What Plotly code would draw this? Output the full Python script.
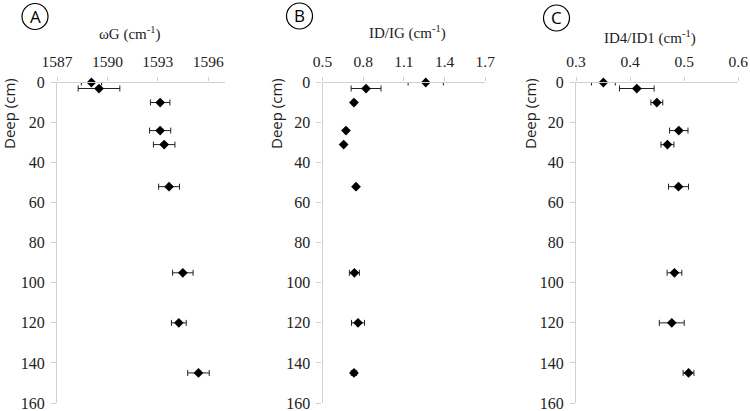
import plotly.graph_objects as go

depth = [0, 3, 10, 24, 31, 52, 95, 120, 145]

wG = [1589.05, 1589.5, 1593.14, 1593.14, 1593.38, 1593.67, 1594.49, 1594.25, 1595.42]
wG_err = [0.6, 1.24, 0.58, 0.63, 0.64, 0.62, 0.61, 0.44, 0.64]

idig = [1.261, 0.821, 0.732, 0.673, 0.656, 0.747, 0.735, 0.762, 0.732]
idig_err = [0.13, 0.11, 0.012, 0.01, 0.0, 0.012, 0.037, 0.048, 0.02]

id4id1 = [0.3506, 0.4124, 0.4494, 0.490, 0.469, 0.4895, 0.482, 0.477, 0.508]
id4id1_err = [0.022, 0.032, 0.011, 0.017, 0.012, 0.0185, 0.0136, 0.023, 0.01]

x_titles = ["ωG (cm<sup>-1</sup>)", "ID/IG (cm<sup>-1</sup>)", "ID4/ID1 (cm<sup>-1</sup>)"]
panel_letters = ["A", "B", "C"]
y_title = "Deep (cm)"
x_ranges = [[1587, 1597], [0.5, 1.7], [0.3, 0.6]]
x_tickvals = [[1587, 1590, 1593, 1596], [0.5, 0.8, 1.1, 1.4, 1.7], [0.3, 0.4, 0.5, 0.6]]
x_ticklabels = [["1587", "1590", "1593", "1596"], ["0.5", "0.8", "1.1", "1.4", "1.7"],
                ["0.3", "0.4", "0.5", "0.6"]]
y_tickvals = [0, 20, 40, 60, 80, 100, 120, 140, 160]
y_ticklabels = ["0", "20", "40", "60", "80", "100", "120", "140", "160"]

W, H = 750, 411


def px(xp):
    return xp / W


def py(yp):
    return 1 - yp / H


def serif_span(t):
    return "<span style='font-family:Liberation Serif'>" + t + "</span>"


series = [(wG, wG_err), (idig, idig_err), (id4id1, id4id1_err)]
dom_px = [(57, 225), (322.5, 485.3), (576, 738.3)]
ydom = [py(403), py(82.5)]

fig = go.Figure()
serif = "Liberation Serif, serif"
sans = "Open Sans, sans-serif"

for i, (vals, errs) in enumerate(series):
    n = "" if i == 0 else str(i + 1)
    fig.add_trace(go.Scatter(
        x=vals, y=depth, mode="markers", cliponaxis=False,
        marker=dict(symbol="diamond", size=7.5, color="black"),
        error_x=dict(type="data", array=errs, visible=True, color="#222", thickness=1, width=3),
        xaxis="x" + n, yaxis="y" + n, showlegend=False,
    ))
    x0, x1 = dom_px[i]
    fig.update_layout(**{
        "xaxis" + n: dict(
            domain=[px(x0), px(x1)], range=x_ranges[i], side="top",
            anchor="y" + n, tickmode="array", tickvals=x_tickvals[i],
            ticktext=[serif_span(t) for t in x_ticklabels[i]],
            showline=True, linecolor="#d0d0d0", linewidth=1.3,
            ticks="outside", ticklen=4, tickcolor="#d0d0d0",
            showgrid=False, zeroline=False, ticklabeloverflow="allow",
            ticklabelstandoff=4, automargin=False,
            tickfont=dict(family=serif, size=15.5, color="#222"),
        ),
        "yaxis" + n: dict(
            domain=ydom, range=[160, 0], anchor="x" + n,
            tickmode="array", tickvals=y_tickvals,
            ticktext=[serif_span(t) for t in y_ticklabels],
            showline=True, linecolor="#d0d0d0", linewidth=1.3,
            ticks="outside", ticklen=5, tickcolor="#d0d0d0",
            showgrid=False, zeroline=False, ticklabeloverflow="allow",
            ticklabelstandoff=3, automargin=False,
            tickfont=dict(family=serif, size=16, color="#222"),
        ),
    })

title_pos = [(130, 33), (407, 32), (650, 37)]
ylab_x = [9, 276, 530]
circle_c = [(35, 16.5), (299.5, 16), (556.5, 18)]
annotations = []
shapes = []
for i in range(3):
    tx, ty = title_pos[i]
    annotations.append(dict(x=px(tx), y=py(ty), xref="paper", yref="paper",
                            text=x_titles[i], showarrow=False,
                            font=dict(family=serif, size=15, color="#222"),
                            xanchor="center", yanchor="middle"))
    annotations.append(dict(x=px(ylab_x[i]), y=py(114), xref="paper", yref="paper",
                            text=y_title, showarrow=False, textangle=-90,
                            font=dict(family=sans, size=15, color="#222"),
                            xanchor="center", yanchor="middle"))
    cx, cy = circle_c[i]
    r = 13
    shapes.append(dict(type="circle", xref="paper", yref="paper",
                       x0=px(cx - r), x1=px(cx + r),
                       y0=py(cy + r), y1=py(cy - r),
                       line=dict(color="black", width=1.2)))
    annotations.append(dict(x=px(cx), y=py(cy), xref="paper", yref="paper",
                            text=panel_letters[i], showarrow=False,
                            font=dict(family=sans, size=17, color="black"),
                            xanchor="center", yanchor="middle"))

fig.update_layout(template="none", width=W, height=H, margin=dict(l=0, r=0, t=0, b=0),
                  font=dict(family=serif),
                  paper_bgcolor="white", plot_bgcolor="white",
                  annotations=annotations, shapes=shapes)

fig.write_html("out.html", config={"displayModeBar": False},
               post_script="document.body.style.margin='0';document.body.style.overflow='hidden';")
